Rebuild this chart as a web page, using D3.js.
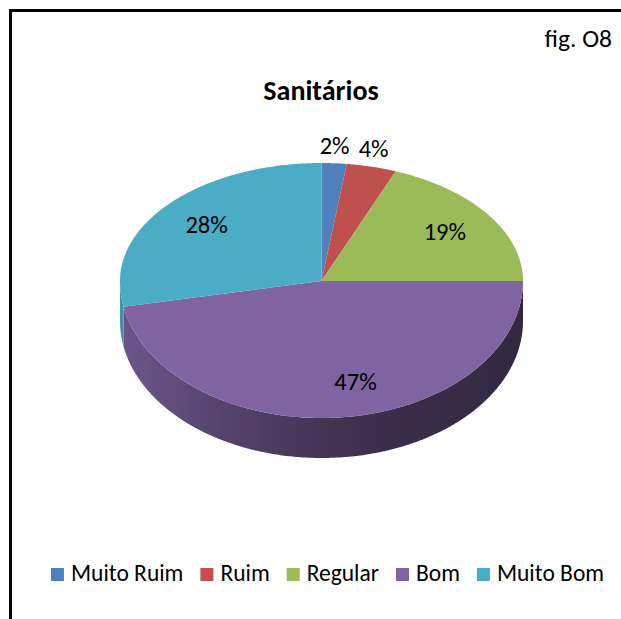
<!DOCTYPE html>
<html>
<head>
<meta charset="utf-8">
<script src="https://cdn.jsdelivr.net/npm/d3@7"></script>
<style>
  html, body { margin: 0; padding: 0; background: #fff; }
  svg { display: block; }
  text { font-family: Carlito, Calibri, Lato, "Open Sans", sans-serif; fill: #000; }
</style>
</head>
<body>
<svg id="chart" width="621" height="619"></svg>
<script>
// Survey answers for "Sanitários" (percent of responses)
const categories = ["Muito Ruim", "Ruim", "Regular", "Bom", "Muito Bom"];
const values = [2, 4, 19, 47, 28];
const colors = ["#4F81BD", "#C0504D", "#9BBB59", "#8064A2", "#4BACC6"];
const chartTitle = "Sanitários";
const figLabel = "fig. O8";

const svg = d3.select("#chart");

// outer frame (only top and left edges fall inside the canvas)
svg.append("rect")
  .attr("x", 10.5).attr("y", 10.5)
  .attr("width", 700).attr("height", 700)
  .attr("fill", "none").attr("stroke", "#000").attr("stroke-width", 3);

svg.append("text")
  .attr("x", 612).attr("y", 47)
  .attr("text-anchor", "end")
  .attr("font-size", 25.5)
  .text(figLabel);

svg.append("text")
  .attr("x", 321).attr("y", 100)
  .attr("text-anchor", "middle")
  .attr("font-size", 28).attr("font-weight", "bold")
  .text(chartTitle);

// 3D pie geometry: tilted ellipse, the near half drawn slightly deeper
const cx = 321.5, cy = 281;
const rx = 201.5, ryBack = 118, ryFront = 137;
const depth = 40;

function proj(theta, f = 1, dy = 0) {
  const s = Math.sin(theta), c = Math.cos(theta);
  return [cx + rx * f * s, cy + dy - (c >= 0 ? ryBack : ryFront) * f * c];
}
function arcPoints(a0, a1, dy = 0) {
  const n = Math.max(2, Math.ceil((a1 - a0) / 0.01));
  return d3.range(n + 1).map(i => proj(a0 + (a1 - a0) * i / n, 1, dy));
}

const pie = d3.pie().sort(null).value(d => d.value).startAngle(0).endAngle(2 * Math.PI);
const arcs = pie(categories.map((c, i) => ({ name: c, value: values[i], color: colors[i] })));

const line = d3.line();
const defs = svg.append("defs");

// side walls (visible front half only)
const gSide = svg.append("g");
arcs.forEach((a, i) => {
  const s = Math.max(a.startAngle, Math.PI / 2);
  const e = Math.min(a.endAngle, 3 * Math.PI / 2);
  if (e <= s) return;
  const gid = "side" + i;
  const base = d3.color(a.data.color);
  const grad = defs.append("linearGradient").attr("id", gid)
    .attr("gradientUnits", "userSpaceOnUse")
    .attr("x1", cx - rx).attr("x2", cx + rx).attr("y1", 0).attr("y2", 0);
  [[0, 0.45], [0.3, 1.25], [0.6, 2.1], [1, 2.6]].forEach(([o, k]) => {
    grad.append("stop").attr("offset", o).attr("stop-color", base.darker(k).formatHex());
  });
  const pts = arcPoints(s, e).concat(arcPoints(s, e, depth).reverse());
  gSide.append("path")
    .attr("d", line(pts) + "Z")
    .attr("fill", `url(#${gid})`);
});

// top faces
const gTop = svg.append("g");
arcs.forEach(a => {
  const pts = [[cx, cy]].concat(arcPoints(a.startAngle, a.endAngle));
  gTop.append("path")
    .attr("d", line(pts) + "Z")
    .attr("fill", a.data.color);
});

// percentage labels: small slices outside the rim, others inside
const fmt = d => d + "%";
arcs.forEach(a => {
  const mid = (a.startAngle + a.endAngle) / 2;
  const outside = a.data.value < 5;
  const [x, y] = proj(mid, outside ? 1.04 : 0.74);
  const nearFront = !outside && Math.abs(Math.sin(mid)) < 0.2;
  svg.append("text")
    .attr("x", x + (nearFront ? 20 : 0))
    .attr("y", outside ? y - 13 : y)
    .attr("text-anchor", "middle")
    .attr("dominant-baseline", "central")
    .attr("font-size", 24.5)
    .text(fmt(a.data.value));
});

// legend row
const legend = svg.append("g");
const box = 13, gapText = 7, gapItem = 17, fs = 23.5;
let xpos = 0;
categories.forEach((c, i) => {
  const g = legend.append("g").attr("transform", `translate(${xpos},0)`);
  g.append("rect").attr("x", 0).attr("y", -13).attr("width", box).attr("height", box)
    .attr("fill", colors[i]);
  const t = g.append("text").attr("x", box + gapText).attr("y", 0)
    .attr("font-size", fs).text(c);
  const w = t.node().getComputedTextLength();
  xpos += box + gapText + w + gapItem;
});
const total = xpos - gapItem;
legend.attr("transform", `translate(${(47 + 608) / 2 - total / 2},581)`);
</script>
</body>
</html>
